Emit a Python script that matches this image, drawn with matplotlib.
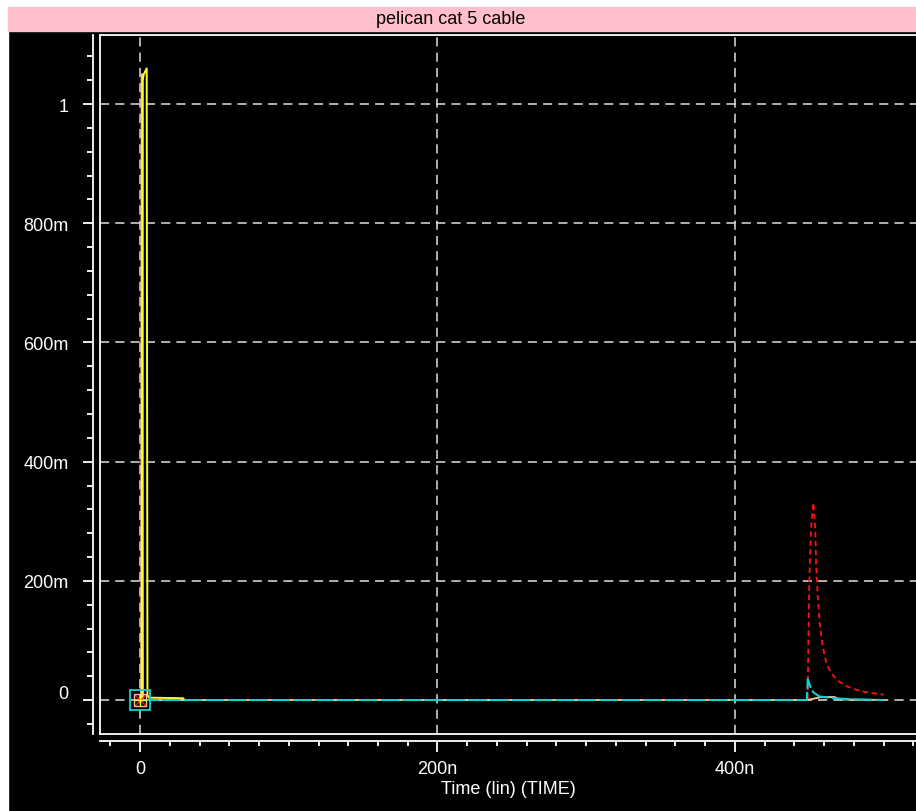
import matplotlib
matplotlib.use("Agg")
import matplotlib.pyplot as plt
from matplotlib.patches import Rectangle
from matplotlib.ticker import FixedLocator, MultipleLocator, FuncFormatter
from matplotlib.transforms import ScaledTranslation

plt.rcParams['font.family'] = ['Liberation Sans', 'DejaVu Sans']

# time in ns, voltage in V
t_yellow = [0, 1.2, 1.8, 2.5, 4.5, 5.0, 6.0, 29, 30]
v_yellow = [0, 0, 1.04, 1.05, 1.06, 0.008, 0.004, 0.003, 0]

t_peach = [0, 0.8, 1.1, 1.6, 2.0, 448.5, 458, 467, 470, 500]
v_peach = [0, 0, 1.05, 1.05, 0, 0, 0.005, 0.005, 0.001, 0]

t_cyan = [0, 448.3, 448.6, 448.9, 450.1, 451.2, 452.7, 456.7, 466.8, 480, 500]
v_cyan = [0, 0, 0.013, 0.035, 0.027, 0.018, 0.013, 0.006, 0.003, 0.001, 0]

t_red = [0, 448.5, 448.9, 449.3, 450.0, 451.1, 452.7, 454.0, 454.5, 455.6, 457.1,
         458.9, 461.6, 465.0, 469.5, 475.1, 481.8, 488.5, 497.5, 500]
v_red = [0, 0, 0.002, 0.091, 0.203, 0.287, 0.331, 0.287, 0.231, 0.175, 0.125,
         0.091, 0.060, 0.044, 0.032, 0.023, 0.017, 0.013, 0.010, 0.009]

x_ticks = [0, 200, 400]
y_ticks = [0, 0.2, 0.4, 0.6, 0.8, 1.0]
title = "pelican cat 5 cable"
xlabel = "Time (lin) (TIME)"

W, H = 916, 812
xlim = (-26.9, 521.7)
ylim = (-0.057, 1.116)

fig = plt.figure(figsize=(W / 100, H / 100), dpi=100, facecolor='black')

# window decoration: white margin and pink title bar
fig.add_artist(Rectangle((0, 0), 8 / W, 1, transform=fig.transFigure, color='white', zorder=0))
fig.add_artist(Rectangle((0, 1 - 8 / H), 1, 8 / H, transform=fig.transFigure, color='white', zorder=0))
fig.add_artist(Rectangle((8 / W, 1 - 32 / H), 1, 24 / H, transform=fig.transFigure,
                         color='#ffc0cb', zorder=0))
fig.text(451 / W, 1 - 20 / H, title, ha='center', va='center', fontsize=13, color='black')


def yfmt(v, pos):
    if abs(v) < 1e-9:
        return "0"
    if abs(v - 1) < 1e-9:
        return "1"
    return f"{v * 1000:.0f}m"


def xfmt(v, pos):
    if abs(v) < 1e-9:
        return "0"
    return f"{v:.0f}n"


# main plot area
ax = fig.add_axes([100 / W, 1 - 735 / H, (916 - 100) / W, (735 - 36) / H])
ax.set_facecolor('black')
ax.set_xlim(*xlim)
ax.set_ylim(*ylim)
ax.set_xticks(x_ticks)
ax.set_yticks(y_ticks)
ax.tick_params(length=0, labelbottom=False, labelleft=False)
ax.grid(True, color='#e0e0e0', linestyle=(0, (6, 4)), linewidth=1.1)
for s in ['left', 'top', 'bottom']:
    ax.spines[s].set_color('white')
    ax.spines[s].set_linewidth(1.3)
ax.spines['right'].set_visible(False)

ax.plot(t_red, v_red, color='#ff1010', linestyle=(0, (3, 2)), linewidth=1.3, zorder=3)
ax.plot(t_peach, v_peach, color='#f0c090', linewidth=1.4, zorder=4)
ax.plot(t_yellow, v_yellow, color='#ffff20', linewidth=1.4, zorder=5)
ax.plot(t_cyan, v_cyan, color='#10d0d0', linestyle=(0, (9, 1.5)), linewidth=1.5, zorder=6)

# trace markers at origin
ax.plot(t_cyan[:1], v_cyan[:1], marker='s', markersize=14, markerfacecolor='none',
        markeredgecolor='#10d0d0', markeredgewidth=1.3, zorder=7)
ax.plot(t_red[:1], v_red[:1], marker='x', markersize=8, color='#ff1010', zorder=7)
ax.plot(t_peach[:1], v_peach[:1], marker='s', markersize=9, markerfacecolor='none',
        markeredgecolor='#f0c090', zorder=7)
ax.plot(t_yellow[:1], v_yellow[:1], marker='+', markersize=9, color='#ffff20', zorder=7)

# y ruler
ay = fig.add_axes([93 / W, 1 - 735 / H, 1 / W, (735 - 36) / H])
ay.patch.set_visible(False)
ay.set_ylim(*ylim)
for s in ['right', 'top', 'bottom']:
    ay.spines[s].set_visible(False)
ay.spines['left'].set_color('white')
ay.spines['left'].set_linewidth(1.3)
ay.set_xticks([])
ay.yaxis.set_major_locator(FixedLocator(y_ticks))
ay.yaxis.set_minor_locator(MultipleLocator(0.04))
ay.yaxis.set_major_formatter(FuncFormatter(yfmt))
ay.tick_params(axis='y', which='major', direction='out', length=7, width=1.3,
               color='white', labelcolor='white', labelsize=13, pad=10.5)
ay.tick_params(axis='y', which='minor', direction='out', length=4, width=1.3, color='white')

# the "0" label sits a little above its tick in the original
fig.canvas.draw()
zero_lbl = ay.yaxis.get_major_ticks()[0].label1
zero_lbl.set_transform(zero_lbl.get_transform() + ScaledTranslation(0, 9 / 100, fig.dpi_scale_trans))

# x ruler
axr = fig.add_axes([100 / W, 1 - 742 / H, (916 - 100) / W, 1 / H])
axr.patch.set_visible(False)
axr.set_xlim(*xlim)
for s in ['left', 'right', 'top']:
    axr.spines[s].set_visible(False)
axr.spines['bottom'].set_color('white')
axr.spines['bottom'].set_linewidth(1.3)
axr.set_yticks([])
axr.xaxis.set_major_locator(FixedLocator(x_ticks))
axr.xaxis.set_minor_locator(MultipleLocator(20))
axr.xaxis.set_major_formatter(FuncFormatter(xfmt))
axr.tick_params(axis='x', which='major', direction='out', length=8, width=1.3,
                color='white', labelcolor='white', labelsize=13, pad=6)
axr.tick_params(axis='x', which='minor', direction='out', length=3.6, width=1.3, color='white')
axr.set_xlabel(xlabel, color='white', fontsize=13, labelpad=2)

fig.savefig("out.png", dpi=100, facecolor=fig.get_facecolor())
